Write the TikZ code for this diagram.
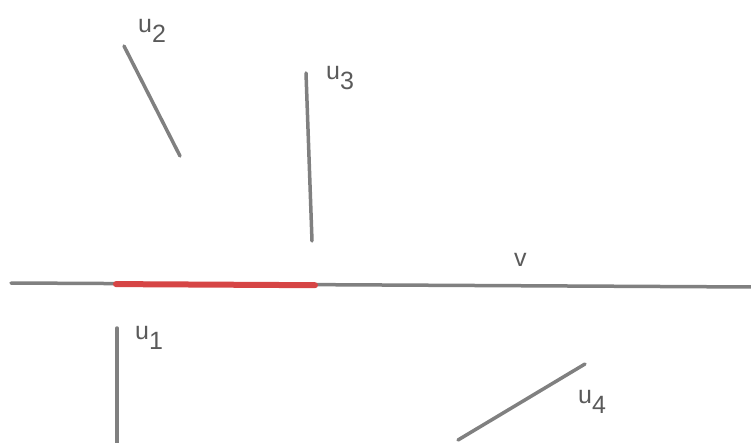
\documentclass[tikz,border=0pt]{standalone}
\usepackage{fontspec}
\setmainfont{Liberation Sans}
\definecolor{segline}{HTML}{808080}
\definecolor{redseg}{HTML}{D64545}
\definecolor{labtext}{HTML}{5A5A5A}
\newcommand\sublab[2]{#1\raisebox{-10pt}{#2}}
\begin{document}
\begin{tikzpicture}[x=1pt,y=-1pt,
  seg/.style={draw=segline,line width=3.5pt,line cap=round},
  hl/.style={draw=redseg,line width=6pt,line cap=round},
  lab/.style={text=labtext,font=\fontsize{25}{25}\selectfont,inner sep=0pt,anchor=base west}]
\useasboundingbox (0,0) rectangle (751,443);
% v line
\coordinate (v0) at (11,283);
\coordinate (v1) at (753,287);
\draw[seg] (v0) -- (v1);
\coordinate (r0) at (116,284.1);
\coordinate (r1) at (315,285.2);
\draw[hl] (r0) -- (r1);
% u2
\coordinate (a0) at (124,46);
\coordinate (a1) at (180,156);
\draw[seg] (a0) -- (a1);
% u3
\coordinate (b0) at (306,73);
\coordinate (b1) at (312,241);
\draw[seg] (b0) -- (b1);
% u1
\coordinate (c0) at (117,328);
\coordinate (c1) at (117,446);
\draw[seg] (c0) -- (c1);
% u4
\coordinate (d0) at (585,364);
\coordinate (d1) at (458,440);
\draw[seg] (d0) -- (d1);
% labels
\node[lab] (lu2) at (138,33) {\sublab{u}{2}};
\node[lab] (lu3) at (326,80) {\sublab{u}{3}};
\node[lab] (lu1) at (135,339) {\sublab{u}{1}};
\node[lab] (lu4) at (578,403) {\sublab{u}{4}};
\node[lab] (lv) at (514,266) {v};
\end{tikzpicture}
\end{document}
